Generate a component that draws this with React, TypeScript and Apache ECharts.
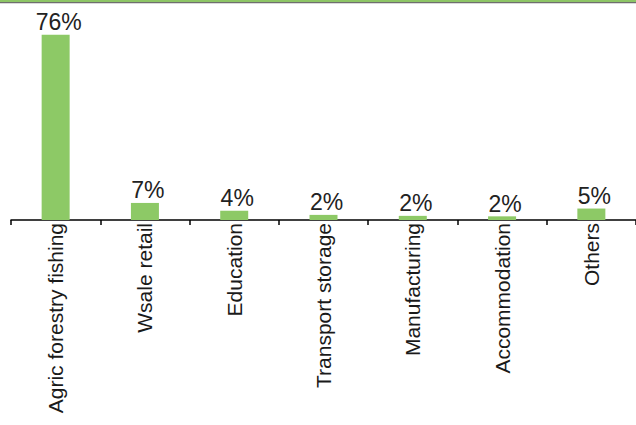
import React, { useEffect, useRef } from "react";
import * as echarts from "echarts";

const categories = [
  "Agric forestry fishing",
  "Wsale retail",
  "Education",
  "Transport storage",
  "Manufacturing",
  "Accommodation",
  "Others",
];
const shares = [76, 7, 3.8, 2.1, 1.7, 1.5, 4.7];

export default function App() {
  const ref = useRef<HTMLDivElement>(null);
  useEffect(() => {
    if (!ref.current) return;
    const chart = echarts.init(ref.current, null, { renderer: "svg" });
    chart.setOption({
      animation: false,
      backgroundColor: "#ffffff",
      textStyle: { fontFamily: "Liberation Sans, Arial, sans-serif" },
      graphic: [
        { type: "rect", left: 0, top: 0, shape: { width: 636, height: 2 }, style: { fill: "#8dc566" } },
        { type: "rect", left: 0, top: 2, shape: { width: 636, height: 1.2 }, style: { fill: "#6e6e6e" } },
      ],
      grid: { left: 11, right: 0, top: 25, bottom: 205, containLabel: false },
      xAxis: {
        type: "category",
        data: categories,
        axisLine: { show: true, lineStyle: { color: "#000", width: 1.5 } },
        axisTick: { show: true, alignWithLabel: false, length: 5, lineStyle: { color: "#000", width: 1.5 } },
        axisLabel: {
          rotate: 90,
          interval: 0,
          fontSize: 21,
          color: "#1a1a1a",
          margin: 3,
          fontFamily: "Liberation Sans, Arial, sans-serif",
        },
      },
      yAxis: {
        type: "value",
        min: 0,
        max: 80,
        show: false,
        splitLine: { show: false },
      },
      series: [
        {
          type: "bar",
          data: shares,
          barWidth: 28,
          itemStyle: { color: "#8dc966" },
          label: {
            show: true,
            position: "top",
            distance: 1,
            offset: [3, 0],
            fontSize: 23,
            color: "#222222",
            fontFamily: "Liberation Sans, Arial, sans-serif",
            formatter: (p: any) => Math.round(p.value) + "%",
          },
        },
      ],
    });
    return () => chart.dispose();
  }, []);
  return (
    <div
      ref={ref}
      style={{ position: "fixed", left: 0, top: 0, width: 636, height: 425 }}
    />
  );
}
